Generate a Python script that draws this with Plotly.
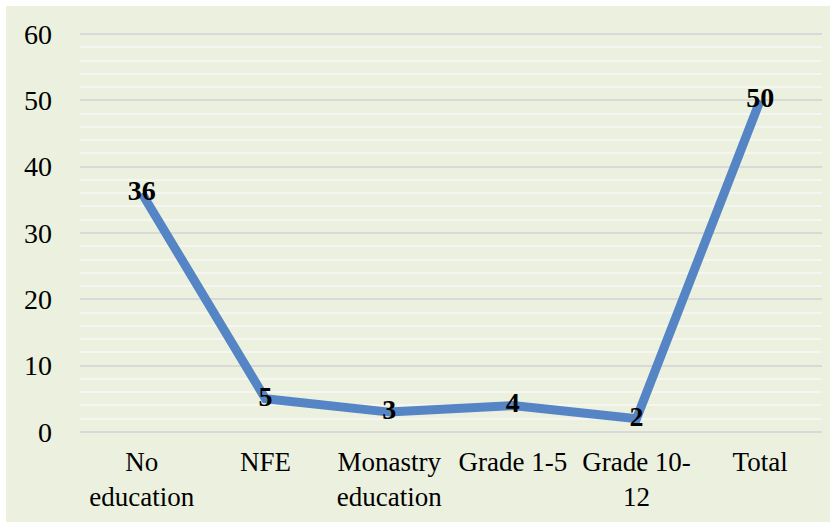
import plotly.graph_objects as go

# Education level categories and respondent counts
categories = ["No<br>education", "NFE", "Monastry<br>education", "Grade 1-5", "Grade 10-<br>12", "Total"]
counts = [36, 5, 3, 4, 2, 50]

y_ticks = [0, 10, 20, 30, 40, 50, 60]

W, H = 830, 522
M_L, M_R, M_T, M_B = 80, 8, 32, 88
plot_w = W - M_L - M_R
plot_h = H - M_T - M_B

FONT = "Liberation Serif"
BG = "#EBF1DE"

fig = go.Figure()
fig.add_trace(go.Scatter(
    x=list(range(len(categories))),
    y=counts,
    mode="lines+text",
    line=dict(color="#5585C5", width=9),
    text=[f"<b>{v}</b>" for v in counts],
    textposition="middle center",
    textfont=dict(family=FONT, size=28, color="#000000"),
    hoverinfo="skip",
    cliponaxis=False,
))

# light green chart background, leaving a thin white margin at top and left
fig.add_shape(
    type="rect", xref="paper", yref="paper", layer="below",
    x0=(6 - M_L) / plot_w, x1=(W - M_L) / plot_w,
    y0=-M_B / plot_h, y1=(H - M_B - 6) / plot_h,
    fillcolor=BG, line=dict(width=0),
)

fig.update_layout(
    width=W, height=H,
    margin=dict(l=M_L, r=M_R, t=M_T, b=M_B, pad=0),
    paper_bgcolor="#FFFFFF",
    plot_bgcolor="rgba(0,0,0,0)",
    showlegend=False,
    font=dict(family=FONT, size=27, color="#000000"),
)

fig.update_xaxes(
    range=[-0.5, len(categories) - 0.5],
    tickmode="array",
    tickvals=list(range(len(categories))),
    ticktext=categories,
    showgrid=False,
    showline=False,
    zeroline=False,
    ticks="",
    ticklabelstandoff=9,
    tickfont=dict(family=FONT, size=27, color="#000000"),
)

fig.update_yaxes(
    range=[-0.3, 60.3],
    tickmode="array",
    tickvals=y_ticks,
    showgrid=True,
    gridcolor="#D9D9D9",
    gridwidth=2,
    minor=dict(dtick=2, showgrid=True, gridcolor="#F5F5F2", gridwidth=2),
    zeroline=False,
    showline=False,
    ticks="",
    ticklabelstandoff=27,
    tickfont=dict(family=FONT, size=28, color="#000000"),
)

fig.write_html("out.html")
